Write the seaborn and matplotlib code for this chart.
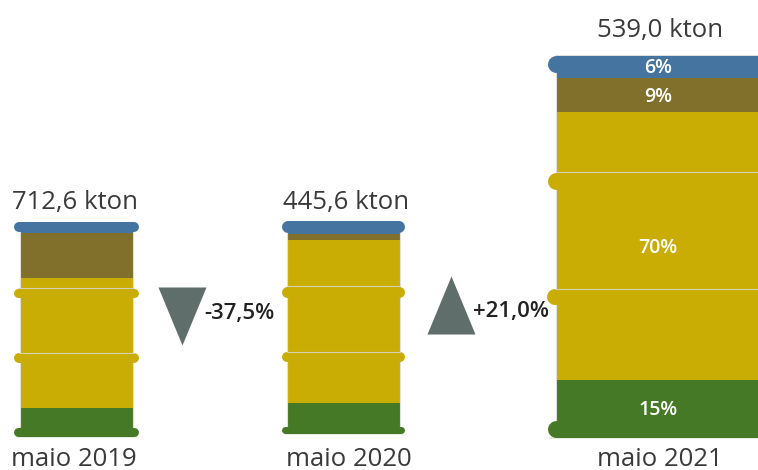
import matplotlib
matplotlib.use("Agg")
import matplotlib.pyplot as plt
from matplotlib.markers import MarkerStyle
from matplotlib.path import Path
from matplotlib.patches import Rectangle
import seaborn as sns

# Data: each drum is split into product shares (%), stacked from the bottom up
periods = ["maio 2019", "maio 2020", "maio 2021"]
totals_kton = [712.6, 445.6, 539.0]
green_share = [13, 14, 15]
yellow_share = [61, 77, 70]
brown_share = [21, 3, 9]
blue_share = [5, 6, 6]
changes_pct = [-37.5, 21.0]

# Canvas layout, in pixels measured from the top-left corner
W, H = 758, 470
COLORS = ["#467925", "#c9ad04", "#80702c", "#44749f"]
CENTERS = [76, 343, 658]
BODY_W = [113, 113, 204]
DRUM_H = [214, 212, 382]
BASE_Y = [436, 433, 437]
RIM_OUT = [6, 5, 9]
RIMS = [
    [(222, 232, 3), (288, 297, 1), (353, 363, 1), (427, 436, 0)],
    [(221, 233, 3), (286, 297, 1), (352, 362, 1), (426, 433, 0)],
    [(55, 72, 3), (172, 189, 1), (289, 305, 1), (420, 437, 0)],
]
TOP_LABEL_Y = [203, 203, 30]
BOTTOM_LABEL_Y = [459, 459, 459]
BOTTOM_LABEL_X = [74, 349, 660]
TOP_LABEL_X = [75, 346, 660]
ARROW_X = [182, 451]
ARROW_Y = [316, 305]
CHANGE_X = [239, 511]
CHANGE_Y = [314, 311]
GREY = "#5f6e6b"
TEXT = "#3a3a3a"


def fy(py):
    return H - py


def pt(px):
    return px * 72 / 100


def br(number, decimals=1):
    return f"{number:.{decimals}f}".replace(".", ",")


sns.set_theme(style="white")
plt.rcParams["font.family"] = ["Open Sans", "DejaVu Sans"]

fig = plt.figure(figsize=(W / 100, H / 100), dpi=100)
ax = fig.add_axes([0, 0, 1, 1])

shares = [green_share, yellow_share, brown_share, blue_share]
for i, cx in enumerate(CENTERS):
    bottom = fy(BASE_Y[i])
    for layer, color in zip(shares, COLORS):
        height = DRUM_H[i] * layer[i] / 100
        sns.barplot(
            x=[cx], y=[height], bottom=bottom, width=BODY_W[i], native_scale=True,
            color=color, saturation=1, errorbar=None, linewidth=0, ax=ax, zorder=2,
        )
        # Only the largest drum has room for its percentage labels
        if i == 2:
            ax.text(cx, bottom + height / 2 - 2, f"{layer[i]}%", color="white", ha="center",
                    va="center", fontsize=14, fontweight="semibold", zorder=6)
        bottom += height

    left = cx - BODY_W[i] / 2
    right = cx + BODY_W[i] / 2
    ax.add_patch(Rectangle((left, fy(BASE_Y[i])), BODY_W[i], DRUM_H[i], fill=False,
                           edgecolor="#dededa", linewidth=0.8, zorder=3))

    # Rounded hoops around the drum body; the light seam shows only on the yellow ones
    for top, bot, idx in RIMS[i]:
        thick = bot - top
        ymid = fy((top + bot) / 2)
        x0 = left - RIM_OUT[i] + thick / 2
        x1 = right + RIM_OUT[i] - thick / 2
        ax.plot([x0, x1], [ymid, ymid], color=COLORS[idx], lw=pt(thick),
                solid_capstyle="round", zorder=4)
        if idx == 1:
            ax.plot([x0, x1], [fy(top), fy(top)], color="#d9d7c8", lw=0.8, alpha=0.9, zorder=5)
    # Pale shadow under the drum
    ax.plot([left - RIM_OUT[i] + 3, right + RIM_OUT[i] - 3], [fy(max(r[1] for r in RIMS[i]) + 1)] * 2,
            color="#e4e6e2", lw=1.2, zorder=1)

    ax.text(TOP_LABEL_X[i], fy(TOP_LABEL_Y[i]), f"{br(totals_kton[i])} kton", ha="center",
            va="center", fontsize=18.5, color=TEXT)
    ax.text(BOTTOM_LABEL_X[i], fy(BOTTOM_LABEL_Y[i]), periods[i], ha="center", va="center",
            fontsize=18.5, color=TEXT)

# Year-on-year change arrows
for x, y, tx, ty, change in zip(ARROW_X, ARROW_Y, CHANGE_X, CHANGE_Y, changes_pct):
    tip = 1 if change > 0 else -1
    verts = [(-24, -tip * 29), (24, -tip * 29), (0, tip * 29), (-24, -tip * 29)]
    marker = MarkerStyle(Path(verts, closed=True))
    sns.scatterplot(x=[x], y=[fy(y)], marker=marker, s=pt(58) ** 2, color=GREY,
                    linewidth=0, legend=False, ax=ax, zorder=3)
    sign = "+" if change > 0 else ""
    ax.text(tx, fy(ty), f"{sign}{br(change)}%", ha="center", va="center", fontsize=16,
            fontweight="semibold", color="#222222")

ax.set_xlim(0, W)
ax.set_ylim(0, H)
ax.axis("off")
fig.savefig("out.png", dpi=100, facecolor="white")
